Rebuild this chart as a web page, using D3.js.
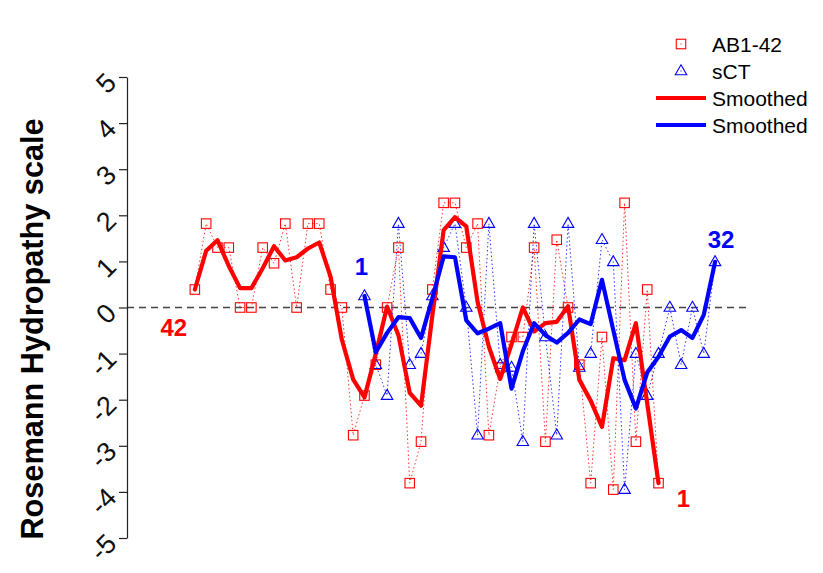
<!DOCTYPE html>
<html>
<head>
<meta charset="utf-8">
<script src="https://cdn.jsdelivr.net/npm/d3@7"></script>
<style>
  html, body { margin: 0; padding: 0; background: #ffffff; }
  svg { display: block; font-family: "Liberation Sans", Arial, Helvetica, sans-serif; }
</style>
</head>
<body>
<svg id="chart" width="823" height="573"></svg>
<script>
// Aβ1-42, plotted from residue 42 (left) to residue 1 (right); Roseman hydropathy values
const abResidues = ["A","I","V","V","G","G","V","M","L","G","I","I","A","G","K","N","S","G","V","D","E",
                    "A","F","F","V","L","K","Q","H","H","V","E","Y","G","S","D","H","R","F","E","A","D"];
const abValues = [0.39, 1.82, 1.30, 1.30, 0.00, 0.00, 1.30, 0.96, 1.82, 0.00, 1.82, 1.82, 0.39, 0.00,
                  -2.77, -1.91, -1.24, 0.00, 1.30, -3.81, -2.91, 0.39, 2.27, 2.27, 1.30, 1.82, -2.77,
                  -1.30, -0.64, -0.64, 1.30, -2.91, 1.47, 0.00, -1.24, -3.81, -0.64, -3.95, 2.27,
                  -2.91, 0.39, -3.81];
const abSmoothed = [0.39, 1.23, 1.46, 0.90, 0.42, 0.42, 0.85, 1.33, 1.02, 1.09, 1.28, 1.41, 0.67, -0.70,
                    -1.56, -1.95, -1.00, 0.02, -0.60, -1.85, -2.13, -0.18, 1.68, 1.96, 1.76, 0.12, -0.85,
                    -1.55, -0.80, 0.00, -0.52, -0.34, -0.31, 0.03, -1.57, -2.02, -2.59, -1.10, -1.14,
                    -0.34, -2.08, -3.81];

// salmon calcitonin, residue 1 to 32
const sctResidues = ["C","S","N","L","S","T","C","V","L","G","K","L","S","Q","E","L",
                     "H","K","L","Q","T","Y","P","R","T","N","T","G","S","G","T","P"];
const sctValues = [0.25, -1.24, -1.91, 1.82, -1.24, -1.00, 0.25, 1.30, 1.82, 0.00, -2.77, 1.82, -1.24,
                   -1.30, -2.91, 1.82, -0.64, -2.77, 1.82, -1.30, -1.00, 1.47, 0.99, -3.95, -1.00,
                   -1.91, -1.00, 0.00, -1.24, 0.00, -1.00, 0.99];
const sctSmoothed = [0.25, -0.97, -0.55, -0.21, -0.23, -0.66, 0.20, 1.11, 1.09, -0.28, -0.56, -0.46,
                     -0.34, -1.76, -0.95, -0.34, -0.60, -0.76, -0.55, -0.26, -0.36, 0.60, -0.49, -1.57,
                     -2.19, -1.41, -1.07, -0.63, -0.49, -0.66, -0.16, 0.99];

// slot on the shared horizontal grid where each sequence begins
const abStart = 1;
const sctStart = 16;

const yTicks = [5, 4, 3, 2, 1, 0, -1, -2, -3, -4, -5];
const yTitle = "Rosemann Hydropathy scale";

const legendLabels = ["AB1-42", "sCT", "Smoothed", "Smoothed"];
const legendKinds = ["square", "triangle", "line", "line"];

const endLabels = [
  { text: "42", series: "ab", slot: 0 },
  { text: "1",  series: "ab", slot: 41 },
  { text: "1",  series: "sct", slot: 0 },
  { text: "32", series: "sct", slot: 31 }
];

const RED = "#ff0000";
const BLUE = "#0000ff";

const svg = d3.select("#chart");

const x = d3.scaleLinear().domain([-5, 50]).range([127, 749]);
const y = d3.scaleLinear().domain([-5, 5]).range([538, 77]);

const abPts = abValues.map((v, i) => ({ pos: abStart + i, v, s: abSmoothed[i], r: abResidues[i] }));
const sctPts = sctValues.map((v, i) => ({ pos: sctStart + i, v, s: sctSmoothed[i], r: sctResidues[i] }));

// zero reference line
svg.append("line")
  .attr("x1", x(-5)).attr("x2", x(50))
  .attr("y1", y(0)).attr("y2", y(0))
  .attr("stroke", "#444").attr("stroke-width", 1.3)
  .attr("stroke-dasharray", "7,5");

// y axis with slanted tick labels
const axis = d3.axisLeft(y).tickValues(yTicks).tickSize(8).tickSizeOuter(0).tickFormat(d3.format("d"));
const gAxis = svg.append("g").attr("transform", `translate(${x(-5)},0)`).call(axis);
gAxis.select(".domain").attr("stroke", "#222").attr("stroke-width", 1.2);
gAxis.selectAll(".tick line").attr("stroke", "#222").attr("stroke-width", 1.2);
gAxis.selectAll(".tick text")
  .attr("x", null).attr("dy", null)
  .attr("transform", "translate(-9,6.8) rotate(-45)")
  .attr("text-anchor", "end")
  .attr("fill", "#111")
  .style("font-family", "'Liberation Sans', Arial, sans-serif")
  .style("font-size", "27px")
  .text(d => String(d));

// axis title
svg.append("text")
  .attr("transform", `translate(43,329) rotate(-90)`)
  .attr("text-anchor", "middle")
  .attr("font-weight", "bold")
  .attr("font-size", 30.7)
  .attr("fill", "#000")
  .text(yTitle);

// raw values: dotted connecting lines
const rawLine = d3.line().x(d => x(d.pos)).y(d => y(d.v));
svg.append("path").datum(abPts)
  .attr("d", rawLine).attr("fill", "none")
  .attr("stroke", RED).attr("stroke-width", 1).attr("stroke-opacity", 0.8)
  .attr("stroke-dasharray", "1.5,2.5");
svg.append("path").datum(sctPts)
  .attr("d", rawLine).attr("fill", "none")
  .attr("stroke", BLUE).attr("stroke-width", 1).attr("stroke-opacity", 0.8)
  .attr("stroke-dasharray", "1.5,2.5");

// markers
const sq = 9.5;
svg.append("g").selectAll("rect").data(abPts).join("rect")
  .attr("x", d => x(d.pos) - sq / 2).attr("y", d => y(d.v) - sq / 2)
  .attr("width", sq).attr("height", sq)
  .attr("fill", "none").attr("stroke", RED).attr("stroke-width", 1.1);

const triPath = (cx, cy) => {
  const h = 10, w = 11.5;
  return `M${cx},${cy - h * 0.62}L${cx + w / 2},${cy + h * 0.38}L${cx - w / 2},${cy + h * 0.38}Z`;
};
svg.append("g").selectAll("path").data(sctPts).join("path")
  .attr("d", d => triPath(x(d.pos), y(d.v)))
  .attr("fill", "none").attr("stroke", BLUE).attr("stroke-width", 1.1);

// smoothed profiles
const smoothLine = d3.line().x(d => x(d.pos)).y(d => y(d.s));
svg.append("path").datum(abPts)
  .attr("d", smoothLine).attr("fill", "none")
  .attr("stroke", RED).attr("stroke-width", 4.2)
  .attr("stroke-linejoin", "round").attr("stroke-linecap", "round");
svg.append("path").datum(sctPts)
  .attr("d", smoothLine).attr("fill", "none")
  .attr("stroke", BLUE).attr("stroke-width", 4.2)
  .attr("stroke-linejoin", "round").attr("stroke-linecap", "round");

// residue number labels at the sequence ends
const endOffsets = { "42": [-21, 46.5], "ab1": [25, 24], "sct1": [-3, -21], "32": [6, -14] };
endLabels.forEach(l => {
  const pts = l.series === "ab" ? abPts : sctPts;
  const p = pts[l.slot];
  const key = l.text === "1" ? l.series + "1" : l.text;
  const off = endOffsets[key];
  svg.append("text")
    .attr("x", x(p.pos) + off[0]).attr("y", y(p.v) + off[1])
    .attr("text-anchor", "middle")
    .attr("font-weight", "bold").attr("font-size", 24)
    .attr("fill", l.series === "ab" ? RED : BLUE)
    .text(l.text);
});

// legend
const lg = svg.append("g");
const rowY = [44, 71, 98, 125];
legendLabels.forEach((lab, i) => {
  const cy = rowY[i];
  const kind = legendKinds[i];
  const color = (i === 0 || i === 2) ? RED : BLUE;
  if (kind === "square") {
    lg.append("rect").attr("x", 681 - sq / 2).attr("y", cy - sq / 2)
      .attr("width", sq).attr("height", sq)
      .attr("fill", "none").attr("stroke", color).attr("stroke-width", 1.1);
    lg.append("rect").attr("x", 680.5).attr("y", cy - 0.5).attr("width", 1).attr("height", 1).attr("fill", color);
  } else if (kind === "triangle") {
    lg.append("path").attr("d", triPath(681, cy))
      .attr("fill", "none").attr("stroke", color).attr("stroke-width", 1.1);
    lg.append("rect").attr("x", 680.5).attr("y", cy - 0.5).attr("width", 1).attr("height", 1).attr("fill", color);
  } else {
    lg.append("line").attr("x1", 656).attr("x2", 706)
      .attr("y1", cy).attr("y2", cy)
      .attr("stroke", color).attr("stroke-width", 4.2);
  }
  lg.append("text").attr("x", 712).attr("y", cy + 7.5)
    .attr("font-size", 21).attr("fill", "#000")
    .text(lab);
});
</script>
</body>
</html>
